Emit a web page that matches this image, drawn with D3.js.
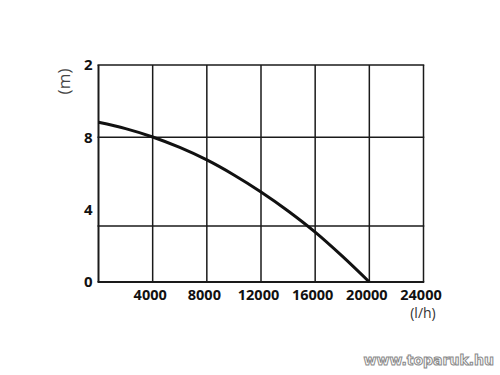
<!DOCTYPE html>
<html><head><meta charset="utf-8">
<script src="https://cdn.jsdelivr.net/npm/d3@7"></script>
<style>body{margin:0;background:#fff}svg{display:block}</style>
</head><body>
<svg id="c" width="500" height="375"></svg>
<script>
const flow = [0, 2000, 4000, 6000, 8000, 10000, 12000, 14000, 16000, 18000, 20000];
const head = [8.83, 8.48, 8.02, 7.44, 6.75, 5.92, 4.98, 3.93, 2.76, 1.43, 0];
const xTicks = [4000, 8000, 12000, 16000, 20000, 24000];
const xTickLabels = ["4000", "8000", "12000", "16000", "20000", "24000"];
const yTicks = [0, 4, 8, 12];
const yTickLabels = ["0", "4", "8", "2"];
const yGridLines = [0, 3.1, 8, 12];
const xGridLines = [0, 4000, 8000, 12000, 16000, 20000, 24000];

const svg = d3.select("#c");
const x = d3.scaleLinear().domain([0, 24000]).range([98.5, 423.5]);
const y = d3.scaleLinear().domain([0, 12]).range([282, 65]);
const font = "'Open Sans', sans-serif";

// grid
svg.append("g").selectAll("line").data(xGridLines).join("line")
  .attr("x1", d => x(d)).attr("x2", d => x(d))
  .attr("y1", y(12)).attr("y2", y(0))
  .attr("stroke", "#1a1a1a").attr("stroke-width", d => d === 0 ? 2 : 1.5);
svg.append("g").selectAll("line").data(yGridLines).join("line")
  .attr("x1", x(0) - 1).attr("x2", x(24000) + 0.75)
  .attr("y1", d => y(d)).attr("y2", d => y(d))
  .attr("stroke", "#1a1a1a").attr("stroke-width", d => d === 0 ? 2 : 1.5);

// curve
svg.append("path")
  .datum(flow.map((f, i) => [f, head[i]]))
  .attr("d", d3.line().x(d => x(d[0])).y(d => y(d[1])).curve(d3.curveCatmullRom))
  .attr("fill", "none").attr("stroke", "#111").attr("stroke-width", 3);

// x tick labels via axis
const xAxis = svg.append("g").attr("transform", `translate(0,${y(0)})`)
  .call(d3.axisBottom(x).tickValues(xTicks).tickSize(0).tickPadding(8)
    .tickFormat((d, i) => xTickLabels[i]));
xAxis.select(".domain").remove();
xAxis.selectAll("text").attr("font-family", font).attr("font-size", 14.5)
  .attr("font-weight", 700).attr("fill", "#111").attr("dx", -3);

// y tick labels via axis
const yAxis = svg.append("g").attr("transform", `translate(${x(0)},0)`)
  .call(d3.axisLeft(y).tickValues(yTicks).tickSize(0).tickPadding(6)
    .tickFormat((d, i) => yTickLabels[i]));
yAxis.select(".domain").remove();
yAxis.selectAll("text").attr("font-family", font).attr("font-size", 15)
  .attr("font-weight", 700).attr("fill", "#111");

// unit labels
svg.append("text").attr("x", 423).attr("y", 318).attr("text-anchor", "middle")
  .attr("font-family", font).attr("font-size", 14).attr("fill", "#333").text("(l/h)");
svg.append("text").attr("transform", "translate(70,81.5) rotate(-90)").attr("text-anchor", "middle")
  .attr("font-family", font).attr("font-size", 17).attr("fill", "#444").text("(m)");

// watermark
svg.append("text").attr("x", 494).attr("y", 365).attr("text-anchor", "end")
  .attr("font-family", "'DejaVu Sans', sans-serif").attr("font-weight", "bold").attr("font-size", 14)
  .attr("fill", "#fff").attr("stroke", "#8a8a8a").attr("stroke-width", 1)
  .text("www.toparuk.hu");
</script>
</body></html>
